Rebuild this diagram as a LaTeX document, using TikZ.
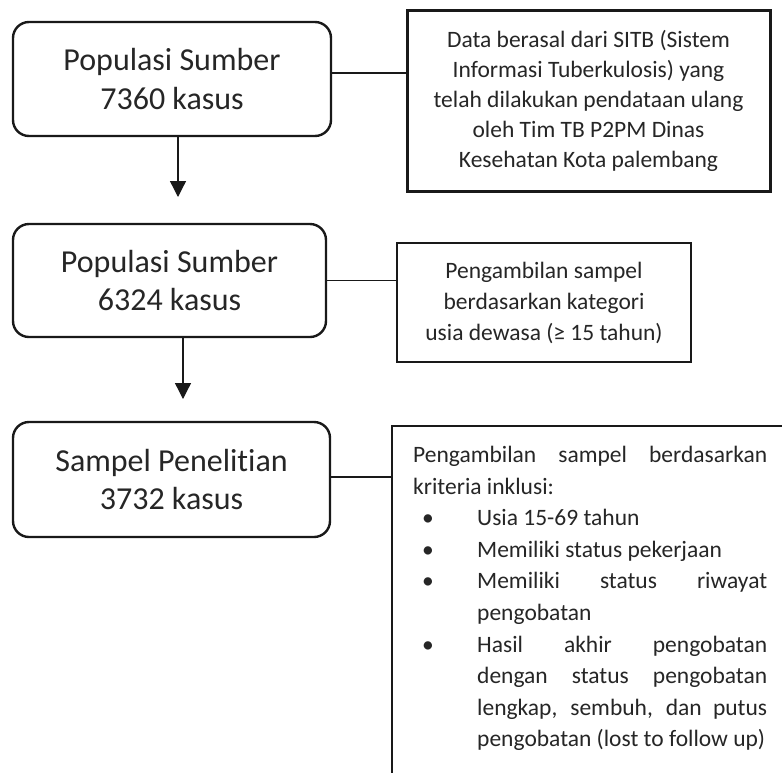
\documentclass[tikz,border=0pt]{standalone}
\usepackage{fontspec}
\setmainfont{Carlito}[Ligatures=NoCommon]
\usetikzlibrary{arrows.meta}
\newcommand{\bul}{\makebox[64pt][l]{\hspace{9pt}\textbullet}}
\newcommand{\ind}{\hspace*{64pt}}
\begin{document}
\begin{tikzpicture}[x=1pt,y=-1pt,
  mainbox/.style={draw=black!90, line width=2.4pt, rounded corners=16pt, inner sep=0pt,
    align=center, font=\fontsize{32}{38.5}\selectfont, text=black!85},
  notebox/.style={draw=black!90, line width=2.4pt, inner sep=0pt,
    align=center, font=\fontsize{23.5}{30}\selectfont, text=black!85},
  conn/.style={draw=black!90, line width=1.3pt},
  arr/.style={draw=black!90, line width=1.3pt, -{Triangle[width=16pt,length=16pt]}}]
\useasboundingbox (0,0) rectangle (782,772);
\clip (0,0) rectangle (782,772);
\fill[white] (0,0) rectangle (782,772);

% left column
\node[mainbox, minimum width=318pt, minimum height=114pt] (b1) at (172,79) {Populasi Sumber\\7360 kasus};
\node[mainbox, minimum width=313pt, minimum height=113pt] (b2) at (169.5,280.5) {Populasi Sumber\\6324 kasus};
\node[mainbox, minimum width=317pt, minimum height=115pt] (b3) at (171.5,479.5) {Sampel Penelitian\\3732 kasus};

% right column
\node[notebox, line width=3pt, minimum width=363pt, minimum height=181pt] (r1) at (588.5,100.5)
  {Data berasal dari SITB (Sistem\\Informasi Tuberkulosis) yang\\telah dilakukan pendataan ulang\\oleh Tim TB P2PM Dinas\\Kesehatan Kota palembang};
\node[notebox, font=\fontsize{23.5}{31}\selectfont, minimum width=294pt, minimum height=119pt] (r2) at (544,302.5)
  {Pengambilan sampel\\berdasarkan kategori\\usia dewasa (≥ 15 tahun)};
\node[draw=black!90, line width=2.4pt, inner sep=0pt, anchor=north west,
  minimum width=440pt, minimum height=420pt] (r3) at (391,425) {};
\node[anchor=north west, inner sep=0pt, align=left, text=black!85,
  font=\fontsize{23.5}{31.6}\selectfont] (t3) at (413,446)
  {\makebox[354pt][s]{Pengambilan sampel berdasarkan}\\
   kriteria inklusi:\\
   \bul Usia 15-69 tahun\\
   \bul Memiliki status pekerjaan\\
   \bul\makebox[290pt][s]{Memiliki status riwayat}\\
   \ind pengobatan\\
   \bul\makebox[290pt][s]{Hasil akhir pengobatan}\\
   \ind\makebox[290pt][s]{dengan status pengobatan}\\
   \ind\makebox[290pt][s]{lengkap, sembuh, dan putus}\\
   \ind pengobatan (lost to follow up)};

% connectors
\draw[conn] ([yshift=6pt]b1.east) -- ([yshift=6pt]b1.east -| r1.west);
\draw[conn] (b2.east) -- (b2.east -| r2.west);
\draw[conn] ([yshift=2.5pt]b3.east) -- ([yshift=2.5pt]b3.east -| r3.west);

% arrows
\coordinate (a1) at (178,197);
\coordinate (a2) at (183,399);
\draw[arr] (b1.south -| a1) -- (a1);
\draw[arr] (b2.south -| a2) -- (a2);
\end{tikzpicture}
\end{document}
